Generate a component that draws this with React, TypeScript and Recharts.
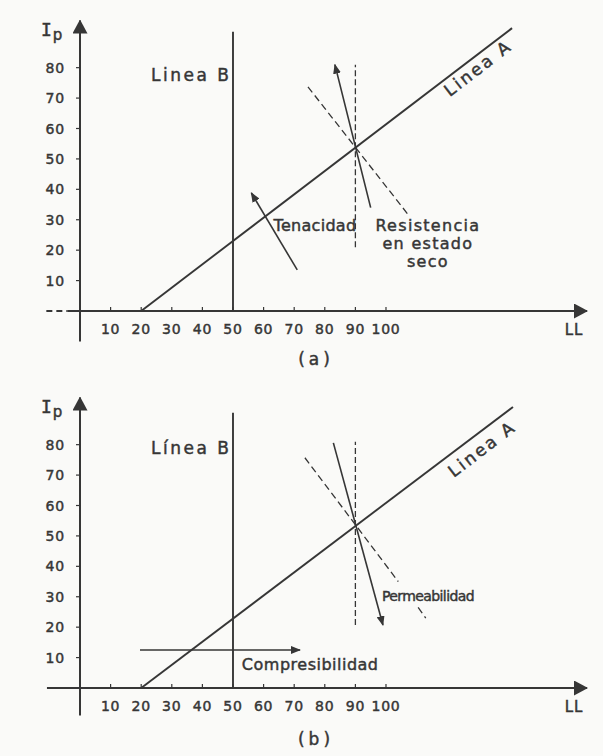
import { LineChart, Line, XAxis, YAxis, ReferenceLine, ReferenceDot, Label } from 'recharts'

type Pt = { ll: number; ip: number }

const llTicks = [10, 20, 30, 40, 50, 60, 70, 80, 90, 100]
const ipTicks = [10, 20, 30, 40, 50, 60, 70, 80]

// panel (a)
const lineaA_a: Pt[] = [{ ll: 20, ip: 0 }, { ll: 141.2, ip: 93 }]
const lineaB_a: Pt[] = [{ ll: 50, ip: 0 }, { ll: 50, ip: 91.8 }]
const ll90_a: Pt[] = [{ ll: 90, ip: 21 }, { ll: 90, ip: 81 }]
const diag_a: Pt[] = [{ ll: 74.5, ip: 73.7 }, { ll: 107, ip: 32 }]
const tenacidad: Pt[] = [{ ll: 71, ip: 13.5 }, { ll: 56, ip: 38.8 }]
const resistencia: Pt[] = [{ ll: 95, ip: 34 }, { ll: 83.3, ip: 81 }]
const yAxis_a: Pt[] = [{ ll: 0, ip: -10 }, { ll: 0, ip: 95.5 }]
const xAxis_a: Pt[] = [{ ll: -4, ip: 0 }, { ll: 165.7, ip: 0 }]
const xStub_a: Pt[] = [{ ll: -11, ip: 0 }, { ll: -4, ip: 0 }]

// panel (b)
const lineaA_b: Pt[] = [{ ll: 20, ip: 0 }, { ll: 141.5, ip: 92.4 }]
const lineaB_b: Pt[] = [{ ll: 50, ip: 0 }, { ll: 50, ip: 90.5 }]
const ll90_b: Pt[] = [{ ll: 90, ip: 20.7 }, { ll: 90, ip: 81 }]
const diag_b1: Pt[] = [{ ll: 73.5, ip: 75.7 }, { ll: 104, ip: 35 }]
const diag_b2: Pt[] = [{ ll: 110.5, ip: 26.5 }, { ll: 113, ip: 23 }]
const permeabilidad: Pt[] = [{ ll: 82.8, ip: 80.6 }, { ll: 99, ip: 20.7 }]
const compresibilidad: Pt[] = [{ ll: 19.6, ip: 12.5 }, { ll: 71.9, ip: 12.5 }]
const yAxis_b: Pt[] = [{ ll: 0, ip: -9 }, { ll: 0, ip: 95.5 }]
const xAxis_b: Pt[] = [{ ll: -10.8, ip: 0 }, { ll: 165.7, ip: 0 }]

const INK = '#363636'
const FONT = '"DejaVu Sans", sans-serif'
// the scanned lettering is heavier than DejaVu regular
const TEXT_STROKE = { stroke: INK, strokeWidth: 0.45 }

type Kind = 'solid' | 'dash' | 'vdash' | 'arrow'
type Curve = { data: Pt[]; kind: Kind }
type Note = {
  at: Pt
  text: string[]
  size: number
  spacing: number
  anchor?: 'start' | 'middle' | 'end'
  angle?: number
}

const notes_a: Note[] = [
  { at: { ll: 49.5, ip: 77.6 }, text: ['Linea B'], size: 17, spacing: 2.5, anchor: 'end' },
  { at: { ll: 130.1, ip: 79.9 }, text: ['Linea A'], size: 17, spacing: 2.5, angle: -37.5 },
  { at: { ll: 76.8, ip: 28.3 }, text: ['Tenacidad'], size: 16, spacing: 0.3 },
  { at: { ll: 113.7, ip: 28.3 }, text: ['Resistencia', 'en estado', 'seco'], size: 16, spacing: 1.3 },
]

const notes_b: Note[] = [
  { at: { ll: 49.5, ip: 78.9 }, text: ['Línea B'], size: 17, spacing: 2.5, anchor: 'end' },
  { at: { ll: 131.4, ip: 78.6 }, text: ['Linea A'], size: 17, spacing: 2.5, angle: -37.5 },
  { at: { ll: 98.7, ip: 30.2 }, text: ['Permeabilidad'], size: 14, spacing: -0.6, anchor: 'start' },
  { at: { ll: 52.9, ip: 7.6 }, text: ['Compresibilidad'], size: 16, spacing: 0.5, anchor: 'start' },
]

const seg = (pts: Pt[]) => pts.map((p) => ({ x: p.ll, y: p.ip }))

function XTick({ x, y, payload }: any) {
  return (
    <g>
      <line x1={x} x2={x} y1={y - 4} y2={y} stroke={INK} strokeWidth={1.2} />
      <text x={x} y={y + 23} textAnchor="middle" fontFamily={FONT} fontSize={14} letterSpacing={0.8} fill={INK} {...TEXT_STROKE}>
        {payload.value}
      </text>
    </g>
  )
}

function YTick({ x, y, payload }: any) {
  return (
    <g>
      <line x1={x - 4} x2={x} y1={y} y2={y} stroke={INK} strokeWidth={1.2} />
      <text x={x - 15} y={y + 5} textAnchor="end" fontFamily={FONT} fontSize={14} letterSpacing={0.8} fill={INK} {...TEXT_STROKE}>
        {payload.value}
      </text>
    </g>
  )
}

function Panel({
  tag,
  curves,
  axisY,
  axisX,
  stubX,
  notes,
  capDy,
}: {
  tag: string
  curves: Curve[]
  axisY: Pt[]
  axisX: Pt[]
  stubX?: Pt[]
  notes: Note[]
  capDy: number
}) {
  const axisShape = (dash?: string, marker?: string) => (p: any) => (
    <line
      x1={p.x1}
      y1={p.y1}
      x2={p.x2}
      y2={p.y2}
      stroke={INK}
      strokeWidth={2}
      strokeDasharray={dash}
      markerEnd={marker ? `url(#${marker})` : undefined}
    />
  )

  const noteShape = (n: Note) => (p: any) => (
    <text
      x={p.cx}
      y={p.cy}
      textAnchor={n.anchor ?? 'middle'}
      transform={n.angle ? `rotate(${n.angle} ${p.cx} ${p.cy})` : undefined}
      fontFamily={FONT}
      fontSize={n.size}
      letterSpacing={n.spacing}
      fill={INK}
      {...TEXT_STROKE}
    >
      {n.text.map((t, i) => (
        <tspan key={i} x={p.cx} dy={i === 0 ? '0.35em' : '1.15em'}>
          {t}
        </tspan>
      ))}
    </text>
  )

  return (
    <LineChart width={603} height={375} margin={{ top: 19, right: 12, bottom: 34, left: 40 }}>
      <defs>
        <marker
          id={`axis-${tag}`}
          viewBox="0 0 14 15"
          refX="13"
          refY="7.5"
          markerWidth="14"
          markerHeight="15"
          markerUnits="userSpaceOnUse"
          orient="auto"
        >
          <path d="M0,0 L14,7.5 L0,15 z" fill={INK} />
        </marker>
        <marker
          id={`head-${tag}`}
          viewBox="0 0 10 8"
          refX="9"
          refY="4"
          markerWidth="10"
          markerHeight="8"
          markerUnits="userSpaceOnUse"
          orient="auto"
        >
          <path d="M0,0 L10,4 L0,8 z" fill={INK} />
        </marker>
      </defs>
      <XAxis
        type="number"
        dataKey="ll"
        domain={[0, 167]}
        ticks={llTicks}
        interval={0}
        tick={XTick}
        tickLine={false}
        axisLine={false}
        tickSize={0}
        tickMargin={0}
        height={30}
        label={
          <Label
            content={(p: any) => {
              const vb = p.viewBox
              return (
                <g fontFamily={FONT} fill={INK} {...TEXT_STROKE}>
                  <text x={vb.x + vb.width - 17} y={vb.y + 24} textAnchor="middle" fontSize={15} letterSpacing={1}>
                    LL
                  </text>
                  <text x={vb.x + 236} y={vb.y + capDy} textAnchor="middle" fontSize={17} letterSpacing={4}>
                    {`(${tag})`}
                  </text>
                </g>
              )
            }}
          />
        }
      />
      <YAxis
        type="number"
        dataKey="ip"
        domain={[0, 96]}
        ticks={ipTicks}
        interval={0}
        tick={YTick}
        tickLine={false}
        axisLine={false}
        tickSize={0}
        tickMargin={0}
        width={40}
        label={
          <Label
            content={(p: any) => {
              const vb = p.viewBox
              return (
                <text x={vb.x + 1} y={vb.y + 17} fill={INK} fontFamily={FONT} {...TEXT_STROKE}>
                  <tspan fontFamily='"DejaVu Sans Mono", monospace' fontSize={18}>
                    I
                  </tspan>
                  <tspan dx={1} dy={4} fontSize={15}>
                    p
                  </tspan>
                </text>
              )
            }}
          />
        }
      />
      <ReferenceLine segment={seg(axisY)} ifOverflow="visible" shape={axisShape(undefined, `axis-${tag}`)} />
      <ReferenceLine segment={seg(axisX)} ifOverflow="visible" shape={axisShape(undefined, `axis-${tag}`)} />
      {stubX && <ReferenceLine segment={seg(stubX)} ifOverflow="visible" shape={axisShape('6 4')} />}
      {curves.map((c, i) => (
        <Line
          key={i}
          data={c.data}
          dataKey="ip"
          type="linear"
          stroke={INK}
          strokeWidth={c.kind === 'solid' ? 1.9 : c.kind === 'arrow' ? 1.6 : 1.3}
          strokeDasharray={c.kind === 'dash' ? '7 4' : c.kind === 'vdash' ? '6 3' : undefined}
          markerEnd={c.kind === 'arrow' ? `url(#head-${tag})` : undefined}
          className={c.kind === 'arrow' ? `arrow-${tag}` : undefined}
          dot={false}
          activeDot={false}
          isAnimationActive={false}
        />
      ))}
      {notes.map((n, i) => (
        <ReferenceDot key={i} x={n.at.ll} y={n.at.ip} r={0} ifOverflow="visible" shape={noteShape(n)} />
      ))}
    </LineChart>
  )
}

export default function App() {
  return (
    <div style={{ position: 'relative', width: 603, height: 756, background: '#fafaf8' }}>
      <style>{`
        body { margin: 0; }
        .arrow-a path.recharts-line-curve { marker-end: url(#head-a); }
        .arrow-b path.recharts-line-curve { marker-end: url(#head-b); }
      `}</style>
      <div style={{ position: 'absolute', left: 0, top: 0 }}>
        <Panel
          tag="a"
          curves={[
            { data: lineaA_a, kind: 'solid' },
            { data: lineaB_a, kind: 'solid' },
            { data: ll90_a, kind: 'vdash' },
            { data: diag_a, kind: 'dash' },
            { data: tenacidad, kind: 'arrow' },
            { data: resistencia, kind: 'arrow' },
          ]}
          axisY={yAxis_a}
          axisX={xAxis_a}
          stubX={xStub_a}
          notes={notes_a}
          capDy={54}
        />
      </div>
      <div style={{ position: 'absolute', left: 0, top: 377 }}>
        <Panel
          tag="b"
          curves={[
            { data: lineaA_b, kind: 'solid' },
            { data: lineaB_b, kind: 'solid' },
            { data: ll90_b, kind: 'vdash' },
            { data: diag_b1, kind: 'dash' },
            { data: diag_b2, kind: 'dash' },
            { data: permeabilidad, kind: 'arrow' },
            { data: compresibilidad, kind: 'arrow' },
          ]}
          axisY={yAxis_b}
          axisX={xAxis_b}
          notes={notes_b}
          capDy={57}
        />
      </div>
    </div>
  )
}
